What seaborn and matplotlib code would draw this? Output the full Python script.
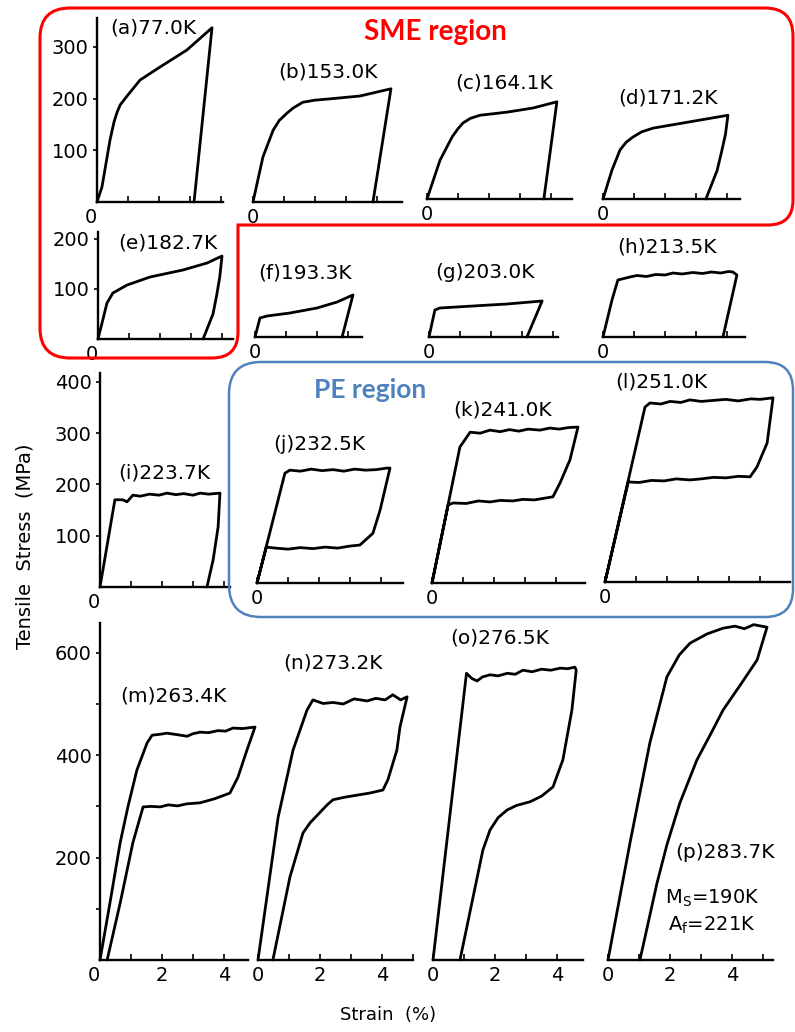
import numpy as np
import pandas as pd
import matplotlib
matplotlib.use("Agg")
import matplotlib.pyplot as plt
import seaborn as sns
from matplotlib.path import Path
from matplotlib.patches import PathPatch

# ---- data: each panel = loading path followed by unloading path (strain %, stress MPa)
panel_ids = list("abcdefghijklmnop")
temps_K = [77.0, 153.0, 164.1, 171.2, 182.7, 193.3, 203.0, 213.5,
           223.7, 232.5, 241.0, 251.0, 263.4, 273.2, 276.5, 283.7]

a_strain = [0, 0.16, 0.42, 0.55, 0.65, 0.75, 0.97, 1.39, 2.03, 2.90, 3.71, 3.13]
a_stress = [0, 29, 120, 155, 174, 188, 205, 236, 261, 294, 337, 0]
b_strain = [0, 0.32, 0.65, 0.85, 1.10, 1.30, 1.61, 2.0, 2.39, 3.45, 4.45, 3.87]
b_stress = [0, 87, 139, 158, 172, 182, 193, 197, 199, 205, 219, 0]
c_strain = [0, 0.42, 0.81, 1.0, 1.16, 1.40, 1.71, 2.58, 3.42, 4.19, 3.77]
c_stress = [0, 75, 120, 136, 147, 156, 162, 168, 176, 188, 0]
d_strain = [0, 0.29, 0.55, 0.75, 0.97, 1.25, 1.61, 2.58, 4.03, 3.95, 3.82, 3.68, 3.32]
d_stress = [0, 56, 95, 110, 120, 130, 137, 147, 162, 125, 90, 55, 0]

e_strain = [0, 0.13, 0.29, 0.48, 0.94, 1.68, 2.74, 3.52, 4.0, 3.93, 3.83, 3.71, 3.39]
e_stress = [0, 32, 72, 92, 108, 124, 138, 152, 166, 125, 88, 50, 0]
f_strain = [0, 0.16, 0.39, 1.13, 2.0, 2.65, 3.16, 2.81]
f_stress = [0, 38, 42, 48, 58, 70, 84, 0]
g_strain = [0, 0.19, 0.35, 1.42, 2.52, 3.65, 3.16]
g_stress = [0, 54, 58, 62, 66, 72, 0]
h_strain = [0, 0.29, 0.48, 0.87, 1.1, 1.4, 1.7, 2.0, 2.26, 2.55, 2.9, 3.2, 3.5,
            3.8, 4.05, 4.19, 4.32, 3.87]
h_stress = [0, 74, 114, 120, 123, 121, 125, 124, 128, 126, 129, 127, 130,
            128, 131, 130, 124, 0]

i_strain = [0, 0.48, 0.74, 0.87, 1.06, 1.3, 1.6, 1.9, 2.16, 2.45, 2.7, 3.0, 3.23,
            3.5, 3.87, 3.81, 3.65, 3.45]
i_stress = [0, 170, 170, 166, 179, 177, 181, 179, 183, 180, 182, 179, 183,
            181, 183, 117, 53, 0]
j_strain = [0, 0.9, 1.06, 1.4, 1.75, 2.1, 2.45, 2.8, 3.15, 3.5, 3.85, 4.19, 4.29,
            3.97, 3.74, 3.32, 3.0, 2.6, 2.2, 1.8, 1.4, 1.0, 0.6, 0.3, 0]
j_stress = [0, 214, 220, 218, 222, 219, 221, 218, 222, 220, 221, 224, 224,
            142, 97, 74, 72, 68, 70, 67, 69, 66, 68, 70, 0]
k_strain = [0, 0.9, 1.23, 1.55, 1.87, 2.2, 2.5, 2.8, 3.1, 3.48, 3.8, 4.1, 4.4, 4.71,
            4.45, 4.13, 3.90, 3.6, 3.3, 2.94, 2.6, 2.2, 1.87, 1.5, 1.1, 0.68, 0.52, 0]
k_stress = [0, 265, 294, 292, 298, 295, 299, 296, 300, 298, 302, 300, 303, 304,
            240, 195, 168, 165, 162, 163, 160, 161, 158, 160, 155, 156, 152, 0]
l_strain = [0, 1.29, 1.45, 1.8, 2.1, 2.45, 2.74, 3.1, 3.5, 3.9, 4.3, 4.7, 5.0, 5.42,
            5.23, 4.90, 4.68, 4.3, 3.9, 3.5, 3.1, 2.74, 2.3, 1.9, 1.5, 1.1, 0.75, 0]
l_stress = [0, 341, 349, 347, 352, 350, 355, 352, 354, 356, 353, 357, 356, 359,
            271, 224, 205, 206, 203, 204, 201, 199, 201, 197, 198, 194, 195, 0]

m_strain = [0, 0.32, 0.65, 0.90, 1.19, 1.52, 1.68, 1.95, 2.16, 2.5, 2.81, 3.0, 3.23,
            3.5, 3.8, 4.05, 4.29, 4.6, 5.0,
            4.74, 4.45, 4.19, 3.7, 3.23, 2.8, 2.5, 2.2, 1.94, 1.65, 1.39, 1.06, 0.65, 0.23]
m_stress = [0, 111, 229, 299, 371, 424, 439, 441, 443, 440, 437, 442, 445,
            444, 448, 447, 453, 452, 455,
            410, 357, 326, 315, 307, 305, 301, 303, 299, 300, 299, 229, 111, 0]
n_strain = [0, 0.65, 1.13, 1.58, 1.77, 2.1, 2.42, 2.75, 3.1, 3.52, 3.8, 4.1, 4.35, 4.6, 4.81,
            4.58, 4.48, 4.19, 4.03, 3.6, 3.2, 2.8, 2.42, 2.23, 1.68, 1.45, 1.03, 0.48]
n_stress = [0, 279, 410, 488, 508, 501, 503, 500, 510, 506, 511, 508, 518, 508, 514,
            455, 410, 352, 332, 326, 322, 318, 313, 303, 268, 248, 162, 0]
o_strain = [0, 1.08, 1.25, 1.42, 1.6, 1.84, 2.1, 2.4, 2.65, 2.90, 3.2, 3.5, 3.8, 4.1,
            4.35, 4.58, 4.62,
            4.48, 4.19, 3.87, 3.5, 3.13, 2.7, 2.39, 2.1, 1.84, 1.61, 0.87]
o_stress = [0, 560, 550, 545, 553, 557, 555, 560, 558, 566, 563, 568, 566, 570,
            569, 572, 566,
            488, 391, 338, 320, 309, 302, 293, 278, 254, 215, 0]
p_strain = [0, 0.71, 1.35, 1.90, 2.3, 2.65, 3.2, 3.71, 4.1, 4.4, 4.7, 5.13,
            4.81, 4.3, 3.71, 3.3, 2.87, 2.32, 1.9, 1.58, 1.03]
p_stress = [0, 229, 424, 553, 596, 619, 637, 648, 652, 647, 655, 650,
            586, 540, 488, 440, 391, 307, 225, 150, 0]

curves = {
    "a": (a_strain, a_stress), "b": (b_strain, b_stress), "c": (c_strain, c_stress),
    "d": (d_strain, d_stress), "e": (e_strain, e_stress), "f": (f_strain, f_stress),
    "g": (g_strain, g_stress), "h": (h_strain, h_stress), "i": (i_strain, i_stress),
    "j": (j_strain, j_stress), "k": (k_strain, k_stress), "l": (l_strain, l_stress),
    "m": (m_strain, m_stress), "n": (n_strain, n_stress), "o": (o_strain, o_stress),
    "p": (p_strain, p_stress),
}

row_yticks = [[100, 200, 300], [100, 200], [100, 200, 300, 400], [200, 400, 600]]

# ---- layout (pixels)
W, H = 795, 1032
PX_PER_STRAIN = 31.0
row_px_per_mpa = [0.517, 0.500, 0.513, 0.512]
row_ytop = [356, 214, 417, 658]
# (x of strain 0, y of stress 0, x where baseline ends)
origins = {
    "a": (97, 202, 223), "b": (253, 202, 402), "c": (427, 199, 572), "d": (603, 199, 740),
    "e": (98, 339, 233), "f": (255, 337, 362), "g": (429, 337, 558), "h": (603, 337, 745),
    "i": (100, 587, 230), "j": (257, 583, 403), "k": (432, 583, 585), "l": (605, 582, 790),
    "m": (100, 960, 248), "n": (258, 960, 413), "o": (433, 960, 583), "p": (608, 960, 773),
}
label_pos = {
    "a": (110, 28), "b": (278, 72), "c": (455, 83), "d": (618, 98),
    "e": (118, 243), "f": (258, 273), "g": (435, 272), "h": (617, 247),
    "i": (118, 473), "j": (273, 445), "k": (453, 410), "l": (615, 382),
    "m": (120, 696), "n": (283, 663), "o": (450, 638), "p": (675, 853),
}


def fx(x):
    return x / W


def fy(y):
    return 1 - y / H


sns.set_style("white")
plt.rcParams["font.family"] = ["DejaVu Sans"]
plt.rcParams["text.color"] = "black"
plt.rcParams["xtick.color"] = "black"
plt.rcParams["ytick.color"] = "black"
plt.rcParams["axes.edgecolor"] = "black"

fig = plt.figure(figsize=(W / 100, H / 100), dpi=100)

for k, pid in enumerate(panel_ids):
    row, col = divmod(k, 4)
    x0, y0, xr = origins[pid]
    sc = row_px_per_mpa[row]
    xend = (xr - x0) / PX_PER_STRAIN
    ytop = row_ytop[row]
    ax = fig.add_axes([fx(x0), fy(y0), (xr - x0) / W, ytop * sc / H])
    ax.patch.set_alpha(0)

    s, t = curves[pid]
    df = pd.DataFrame({"strain": s, "stress": t})
    sns.lineplot(data=df, x="strain", y="stress", sort=False, estimator=None,
                 color="black", linewidth=2.0, ax=ax)
    for ln in ax.lines:
        ln.set_clip_on(False)
        ln.set_solid_joinstyle("round")

    ax.set_xlim(0, xend)
    ax.set_ylim(0, ytop)
    ax.set_xlabel("")
    ax.set_ylabel("")
    for side in ["top", "right"]:
        ax.spines[side].set_visible(False)
    ax.spines["bottom"].set_linewidth(1.7)

    xt = list(range(0, int(np.floor(xend)) + 1))
    ax.set_xticks(xt)
    if row == 3:
        ax.set_xticklabels([str(v) if v % 2 == 0 else "" for v in xt])
    else:
        ax.set_xticklabels(["0"] + [""] * (len(xt) - 1))
    ax.tick_params(axis="x", direction="in", length=4, width=1.2, pad=4,
                   labelsize=14, bottom=True)

    if col == 0:
        ax.spines["left"].set_linewidth(1.7)
        ax.set_yticks(row_yticks[row])
        ax.set_yticklabels([str(v) for v in row_yticks[row]])
        if row == 3:
            ax.set_yticks([100, 300, 500], minor=True)
        ax.tick_params(axis="y", which="both", direction="out", length=3, width=1.2,
                       pad=3, labelsize=14, left=True)
        ax.get_xticklabels()[0].set_horizontalalignment("right")
    else:
        ax.spines["left"].set_visible(False)
        ax.set_yticks([])

    lx, ly = label_pos[pid]
    fig.text(fx(lx), fy(ly), f"({pid}){temps_K[k]:.1f}K", fontsize=14.5,
             ha="left", va="center")

fig.text(fx(665), fy(898), r"M$_\mathrm{S}$=190K", fontsize=14, ha="left", va="center")
fig.text(fx(668), fy(925), r"A$_\mathrm{f}$=221K", fontsize=14, ha="left", va="center")

fig.text(fx(25), fy(546), "Tensile  Stress  (MPa)", rotation=90, fontsize=14,
         ha="center", va="center")
fig.text(fx(388), fy(1015), "Strain  (%)", fontsize=13, ha="center", va="center")


# ---- region outlines
def rounded_path(pts, radii):
    verts, codes = [], []
    n = len(pts)
    for i in range(n):
        p = np.array(pts[i], float)
        a = np.array(pts[i - 1], float)
        b = np.array(pts[(i + 1) % n], float)
        r = radii[i]
        da = (a - p) / np.linalg.norm(a - p)
        db = (b - p) / np.linalg.norm(b - p)
        verts += [p + r * da, p, p + r * db]
        codes += [Path.MOVETO if i == 0 else Path.LINETO, Path.CURVE3, Path.CURVE3]
    verts.append(verts[0])
    codes.append(Path.LINETO)
    verts = [(fx(v[0]), fy(v[1])) for v in verts]
    return Path(verts, codes)


sme_pts = [(40, 8), (793, 8), (793, 225), (238, 225), (238, 358), (40, 358)]
sme_r = [30, 28, 25, 0, 26, 30]
fig.add_artist(PathPatch(rounded_path(sme_pts, sme_r), transform=fig.transFigure,
                         fill=False, edgecolor="#FF0000", lw=2.2))

pe_pts = [(229, 362), (793, 362), (793, 617), (229, 617)]
pe_r = [32, 28, 28, 32]
fig.add_artist(PathPatch(rounded_path(pe_pts, pe_r), transform=fig.transFigure,
                         fill=False, edgecolor="#4F81BD", lw=1.8))

fig.text(fx(435), fy(32), "SME region", color="#FF0000", fontsize=20,
         fontweight="bold", family="Lato", ha="center", va="center")
fig.text(fx(370), fy(390), "PE region", color="#4F81BD", fontsize=19,
         fontweight="bold", family="Lato", ha="center", va="center")

plt.savefig("out.png", dpi=100)
